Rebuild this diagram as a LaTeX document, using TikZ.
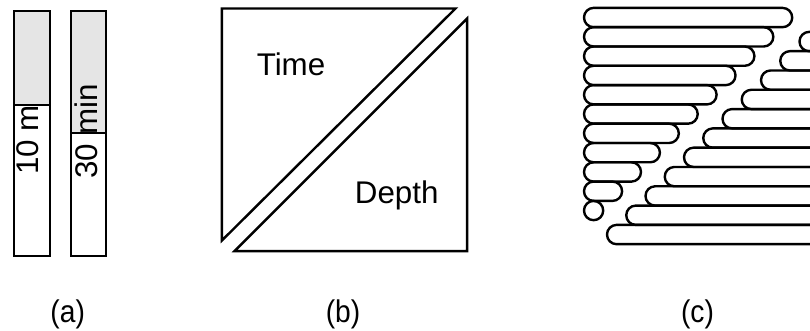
\documentclass[tikz,border=0pt]{standalone}
\usepackage{fontspec}
\setmainfont{Liberation Sans}
\begin{document}
\begin{tikzpicture}[x=0.75pt, y=-0.75pt, line width=1.8pt,
				kapsel/.style={draw, rounded corners=7.2pt},
				wort/.style={inner sep=0pt, anchor=base},
				beschr/.style={inner sep=0pt, anchor=base, xscale=0.9},
				font=\fontsize{23.5}{28}\selectfont]
				\useasboundingbox (0,0) rectangle (810,331);
				% Balken (a)
				\fill[black!10] (14,11) rectangle (50,105);
				\fill[black!10] (71,11) rectangle (106,133);
				\node[rotate=90, inner sep=0pt] (zehn) at (28,140) {10 m};
				\node[rotate=90, inner sep=0pt] (dreissig) at (86,131.5) {30 min};
				\draw (14,105) -- (50,105);
				\draw (71,133) -- (106,133);
				\draw (14,11) rectangle (50,256);
				\draw (71,11) rectangle (106,256);
				% Dreiecke (b)
				\draw (221.9,8.5) -- (455.5,8.5) -- (221.9,240.5) -- cycle;
				\draw (467.1,18.5) -- (467.1,251.1) -- (234.5,251.1) -- cycle;
				\node[wort] (zeit) at (291,76) {Time};
				\node[wort] (tiefe) at (396.7,203.3) {Depth};
				% Kapseln (c)
				\foreach \i in {0,...,10}
					\draw[kapsel] (584,{7.9+19.3*\i}) rectangle ({584+19.2+18.9*(10-\i)},{27.2+19.3*\i});
				\begin{scope}
					\clip (0,0) rectangle (810,331);
					\foreach \k in {0,...,10}
						\draw[kapsel] ({799.5-19.25*\k},{31.9+19.3*\k}) rectangle (860,{51.2+19.3*\k});
				\end{scope}
				% Beschriftung
				\node[beschr] (laba) at (67.7,322) {(a)};
				\node[beschr] (labb) at (343,322) {(b)};
				\node[beschr] (labc) at (697.5,322) {(c)};
			\end{tikzpicture}
\end{document}
